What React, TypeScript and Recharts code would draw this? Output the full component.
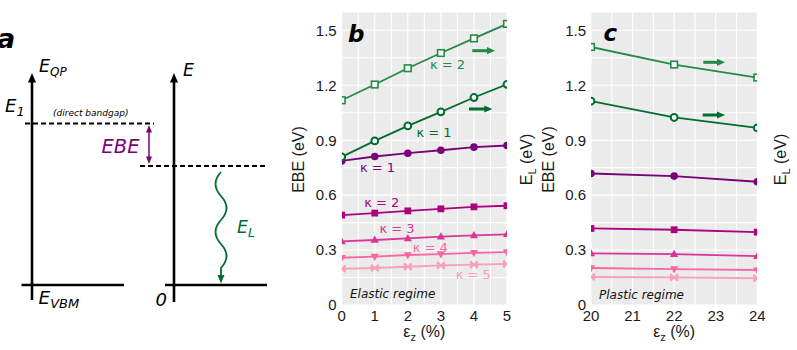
import React from 'react';
import { LineChart, Line, XAxis, YAxis, CartesianGrid } from 'recharts';

// ---- Data: panel b (elastic regime) ----
const strainElastic = [0, 1, 2, 3, 4, 5];
const elasticK2EL = [1.118, 1.204, 1.293, 1.376, 1.456, 1.535];
const elasticK1EL = [0.809, 0.896, 0.978, 1.055, 1.133, 1.205];
const elasticK1EBE = [0.787, 0.811, 0.829, 0.845, 0.862, 0.871];
const elasticK2EBE = [0.491, 0.502, 0.514, 0.525, 0.536, 0.542];
const elasticK3EBE = [0.347, 0.355, 0.364, 0.373, 0.38, 0.386];
const elasticK4EBE = [0.258, 0.264, 0.273, 0.278, 0.285, 0.289];
const elasticK5EBE = [0.198, 0.202, 0.209, 0.216, 0.22, 0.224];

// ---- Data: panel c (plastic regime) ----
const strainPlastic = [20, 22, 24];
const plasticK2EL = [1.409, 1.313, 1.242];
const plasticK1EL = [1.113, 1.024, 0.967];
const plasticK1EBE = [0.718, 0.704, 0.673];
const plasticK2EBE = [0.418, 0.411, 0.398];
const plasticK3EBE = [0.282, 0.278, 0.267];
const plasticK4EBE = [0.202, 0.196, 0.191];
const plasticK5EBE = [0.153, 0.151, 0.146];

// ---- Ticks ----
const elasticTicks = [0, 0.5, 1, 1.5, 2, 2.5, 3, 3.5, 4, 4.5, 5];
const plasticTicks = [20, 20.5, 21, 21.5, 22, 22.5, 23, 23.5, 24];
const yTicks = [0, 0.15, 0.3, 0.45, 0.6, 0.75, 0.9, 1.05, 1.2, 1.35, 1.5];
const yDomain = [0, 1.6];

const AXIS_FONT = '"Liberation Sans", Arial, Helvetica, sans-serif';
const ANNOT_FONT = '"DejaVu Sans", Verdana, sans-serif';

const C = {
  k2EL: '#238b45',
  k1EL: '#006d2c',
  k1: '#7a0177',
  k2: '#ae017e',
  k3: '#dd3497',
  k4: '#f768a1',
  k5: '#fa9fb5',
};

const seriesDefs = [
  { key: 'k5EBE', axis: 'left', color: C.k5, shape: 'bowtie' },
  { key: 'k4EBE', axis: 'left', color: C.k4, shape: 'triangleDown' },
  { key: 'k3EBE', axis: 'left', color: C.k3, shape: 'triangle' },
  { key: 'k2EBE', axis: 'left', color: C.k2, shape: 'square' },
  { key: 'k1EBE', axis: 'left', color: C.k1, shape: 'circle' },
  { key: 'k2EL', axis: 'right', color: C.k2EL, shape: 'openSquare' },
  { key: 'k1EL', axis: 'right', color: C.k1EL, shape: 'openCircle' },
];

const elasticRows = strainElastic.map((s, i) => ({
  strain: s,
  k2EL: elasticK2EL[i],
  k1EL: elasticK1EL[i],
  k1EBE: elasticK1EBE[i],
  k2EBE: elasticK2EBE[i],
  k3EBE: elasticK3EBE[i],
  k4EBE: elasticK4EBE[i],
  k5EBE: elasticK5EBE[i],
}));

const plasticRows = strainPlastic.map((s, i) => ({
  strain: s,
  k2EL: plasticK2EL[i],
  k1EL: plasticK1EL[i],
  k1EBE: plasticK1EBE[i],
  k2EBE: plasticK2EBE[i],
  k3EBE: plasticK3EBE[i],
  k4EBE: plasticK4EBE[i],
  k5EBE: plasticK5EBE[i],
}));

const fmtX = (v: number) => (Number.isInteger(v) ? String(v) : '');
const fmtY = (v: number) => {
  const m = Math.round(v * 100);
  if (m % 30 !== 0) return '';
  return m === 0 ? '0' : v.toFixed(1);
};

type Box = { x: number; y: number; w: number; h: number };

function shapeEl(shape: string, color: string, cx: number, cy: number) {
  switch (shape) {
    case 'circle':
      return <circle cx={cx} cy={cy} r={3.8} fill={color} />;
    case 'openCircle':
      return <circle cx={cx} cy={cy} r={3.4} fill="#ffffff" stroke={color} strokeWidth={2} />;
    case 'square':
      return <rect x={cx - 3.4} y={cy - 3.4} width={6.8} height={6.8} fill={color} />;
    case 'openSquare':
      return <rect x={cx - 3.3} y={cy - 3.3} width={6.6} height={6.6} fill="#ffffff" stroke={color} strokeWidth={1.6} />;
    case 'triangle':
      return <polygon points={`${cx},${cy - 4.4} ${cx + 4.1},${cy + 2.8} ${cx - 4.1},${cy + 2.8}`} fill={color} />;
    case 'triangleDown':
      return <polygon points={`${cx},${cy + 4.4} ${cx + 4.1},${cy - 2.8} ${cx - 4.1},${cy - 2.8}`} fill={color} />;
    case 'bowtie':
    default:
      return (
        <g stroke={color} strokeWidth={1.6}>
          <line x1={cx - 3.3} y1={cy - 3.3} x2={cx + 3.3} y2={cy + 3.3} />
          <line x1={cx - 3.3} y1={cy + 3.3} x2={cx + 3.3} y2={cy - 3.3} />
          <line x1={cx - 3.3} y1={cy - 3.5} x2={cx - 3.3} y2={cy + 3.5} />
          <line x1={cx + 3.3} y1={cy - 3.5} x2={cx + 3.3} y2={cy + 3.5} />
        </g>
      );
  }
}

// Dots are clipped to the plot area (nested svg viewport), as in the reference.
function makeDot(shape: string, color: string, box: Box) {
  return (p: any) => {
    const { cx, cy, index } = p;
    const key = `${shape}-${index}`;
    if (typeof cx !== 'number' || typeof cy !== 'number') return <g key={key} />;
    return (
      <svg key={key} x={box.x} y={box.y} width={box.w} height={box.h} overflow="hidden">
        <g transform={`translate(${-box.x},${-box.y})`}>{shapeEl(shape, color, cx, cy)}</g>
      </svg>
    );
  };
}

type PanelProps = {
  left: number;
  width: number;
  leftW: number;
  rightW: number;
  rows: any[];
  xTicks: number[];
  xDomain: number[];
  rightLabelOffset: number;
};

const TOP = 12;
const XH = 45;
const H = 350;

function Panel({ left, width, leftW, rightW, rows, xTicks, xDomain, rightLabelOffset }: PanelProps) {
  const plotLeft = leftW;
  const plotRight = width - rightW;
  const plotMidX = (plotLeft + plotRight) / 2;
  const plotMidY = (TOP + (H - XH)) / 2 + 1;
  const box: Box = { x: plotLeft, y: TOP, w: plotRight - plotLeft, h: H - XH - TOP };

  const xLabel = () => (
    <text x={plotMidX} y={H - XH + 32} textAnchor="middle" fontSize={16} fill="#1a1a1a" fontFamily={AXIS_FONT}>
      ε<tspan fontSize={11} dy={4}>z</tspan>
      <tspan dy={-4}> (%)</tspan>
    </text>
  );
  const leftLabel = () => {
    const cx = 13.5;
    return (
      <text
        x={cx}
        y={plotMidY}
        transform={`rotate(-90 ${cx} ${plotMidY})`}
        textAnchor="middle"
        fontSize={16}
        fill="#1a1a1a"
        fontFamily={AXIS_FONT}
      >
        EBE (eV)
      </text>
    );
  };
  const rightLabel = () => {
    const cx = plotRight + rightLabelOffset;
    return (
      <text
        x={cx}
        y={plotMidY}
        transform={`rotate(-90 ${cx} ${plotMidY})`}
        textAnchor="middle"
        fontSize={16}
        fill="#1a1a1a"
        fontFamily={AXIS_FONT}
      >
        E<tspan fontSize={11} dy={4}>L</tspan>
        <tspan dy={-4}> (eV)</tspan>
      </text>
    );
  };

  return (
    <div style={{ position: 'absolute', left, top: 0, width, height: H }}>
      <LineChart width={width} height={H} data={rows} margin={{ top: TOP, right: 0, bottom: 0, left: 0 }}>
        <CartesianGrid yAxisId="left" fill="#ebebeb" fillOpacity={1} stroke="#ffffff" strokeWidth={1.1} />
        <XAxis
          dataKey="strain"
          type="number"
          domain={xDomain}
          ticks={xTicks}
          interval={0}
          allowDataOverflow
          tickFormatter={fmtX}
          tickLine={false}
          axisLine={false}
          tickSize={0}
          tickMargin={5}
          height={XH}
          tick={{ fontSize: 15, fill: '#1a1a1a', fontFamily: AXIS_FONT }}
          label={{ content: xLabel }}
        />
        <YAxis
          yAxisId="left"
          type="number"
          domain={yDomain}
          ticks={yTicks}
          interval={0}
          allowDataOverflow
          tickFormatter={fmtY}
          tickLine={false}
          axisLine={false}
          tickSize={0}
          tickMargin={5}
          width={leftW}
          tick={{ fontSize: 15, fill: '#1a1a1a', fontFamily: AXIS_FONT }}
          label={{ content: leftLabel }}
        />
        <YAxis
          yAxisId="right"
          orientation="right"
          type="number"
          domain={yDomain}
          ticks={yTicks}
          allowDataOverflow
          tick={false}
          tickLine={false}
          axisLine={false}
          width={rightW}
          label={{ content: rightLabel }}
        />
        {seriesDefs.map((s) => (
          <Line
            key={s.key}
            yAxisId={s.axis}
            type="linear"
            dataKey={s.key}
            stroke={s.color}
            strokeWidth={1.8}
            dot={makeDot(s.shape, s.color, box)}
            activeDot={false}
            isAnimationActive={false}
          />
        ))}
      </LineChart>
    </div>
  );
}

function Arrow({ x1, x2, y, color }: { x1: number; x2: number; y: number; color: string }) {
  const hl = 8;
  return (
    <g fill={color}>
      <rect x={x1} y={y - 1.5} width={x2 - x1 - hl + 1} height={3} />
      <polygon points={`${x2 - hl},${y - 3.6} ${x2},${y} ${x2 - hl},${y + 3.6}`} />
    </g>
  );
}

function Overlay() {
  const it = { fontFamily: ANNOT_FONT, fontStyle: 'italic' as const };
  return (
    <svg
      width={797}
      height={350}
      style={{ position: 'absolute', left: 0, top: 0, pointerEvents: 'none' }}
    >
      {/* ---- Panel a schematic ---- */}
      <text x={-3} y={47.5} fontSize={27} fontWeight="bold" {...it} fill="#000">a</text>
      <line x1={32} y1={300} x2={32} y2={80} stroke="#000" strokeWidth={2.6} />
      <polygon points="32,73 28,82.5 36,82.5" fill="#000" />
      <line x1={21.5} y1={285} x2={124} y2={285} stroke="#000" strokeWidth={2.6} />
      <line x1={174} y1={302} x2={174} y2={80} stroke="#000" strokeWidth={2.6} />
      <polygon points="174,73 170,82.5 178,82.5" fill="#000" />
      <line x1={165} y1={285} x2={267} y2={285} stroke="#000" strokeWidth={2.6} />
      <line x1={25} y1={123.5} x2={154} y2={123.5} stroke="#000" strokeWidth={1.8} strokeDasharray="5 3" />
      <line x1={140} y1={166} x2={267} y2={166} stroke="#000" strokeWidth={1.8} strokeDasharray="5 3" />
      <line x1={149} y1={130} x2={149} y2={159} stroke={C.k1} strokeWidth={1.5} />
      <polygon points="149,125 146,132.5 152,132.5" fill={C.k1} />
      <polygon points="149,164 146,156.5 152,156.5" fill={C.k1} />
      <text x={101.5} y={152.7} fontSize={19.5} fill={C.k1} {...it}>EBE</text>
      <path
        d="M221,172 Q210,184 221,196 Q232,208 221,220 Q210,232 221,244 Q232,256 221,268 L221,276"
        fill="none"
        stroke={C.k1EL}
        strokeWidth={1.8}
      />
      <polygon points="217.5,275 224.5,275 221,283.5" fill={C.k1EL} />
      <text x={237} y={233.3} fontSize={17.5} fill={C.k1EL} {...it}>
        E<tspan fontSize={12.5} dy={4}>L</tspan>
      </text>
      <text x={39} y={71.7} fontSize={17.5} fill="#000" {...it}>
        E<tspan fontSize={12} dy={4}>QP</tspan>
      </text>
      <text x={5} y={111.7} fontSize={18} fill="#000" {...it}>
        E<tspan fontSize={13} dy={4}>1</tspan>
      </text>
      <text x={53} y={116} fontSize={9} fill="#000" {...it}>(direct bandgap)</text>
      <text x={183} y={75.7} fontSize={17.5} fill="#000" {...it}>E</text>
      <text x={38.5} y={304} fontSize={18.5} fill="#000" {...it}>
        E<tspan fontSize={13} dy={4}>VBM</tspan>
      </text>
      <text x={155.5} y={306} fontSize={18} fill="#000" {...it}>0</text>

      {/* ---- Panel b annotations ---- */}
      <text x={348} y={41.5} fontSize={23} fontWeight="bold" {...it} fill="#000">b</text>
      <g fontFamily={ANNOT_FONT} fontSize={13} textAnchor="middle">
        <text x={447.5} y={69} fill={C.k2EL}>κ = 2</text>
        <text x={434} y={137} fill={C.k1EL}>κ = 1</text>
        <text x={377.5} y={171.7} fill={C.k1}>κ = 1</text>
        <text x={381.7} y={206.5} fill={C.k2}>κ = 2</text>
        <text x={397} y={232.5} fill={C.k3}>κ = 3</text>
        <text x={430.3} y={252} fill={C.k4}>κ = 4</text>
        <text x={473.3} y={279} fill={C.k5}>κ = 5</text>
      </g>
      <text x={350} y={298} fontSize={12} fill="#111" {...it}>Elastic regime</text>
      <Arrow x1={472.3} x2={495} y={50.7} color={C.k2EL} />
      <Arrow x1={469} x2={492.3} y={109} color={C.k1EL} />

      {/* ---- Panel c annotations ---- */}
      <text x={603.5} y={40.7} fontSize={23} fontWeight="bold" {...it} fill="#000">c</text>
      <text x={599} y={298.5} fontSize={12} fill="#111" {...it}>Plastic regime</text>
      <Arrow x1={703.3} x2={725} y={62.3} color={C.k2EL} />
      <Arrow x1={702.7} x2={725} y={115} color={C.k1EL} />
    </svg>
  );
}

export default function App() {
  return (
    <div
      style={{
        position: 'absolute',
        left: 0,
        top: 0,
        width: 797,
        height: 350,
        background: '#ffffff',
        overflow: 'hidden',
      }}
    >
      <Panel
        left={290}
        width={250}
        leftW={51.7}
        rightW={33}
        rows={elasticRows}
        xTicks={elasticTicks}
        xDomain={[0, 5]}
        rightLabelOffset={25}
      />
      <Panel
        left={540}
        width={257}
        leftW={51}
        rightW={39.7}
        rows={plasticRows}
        xTicks={plasticTicks}
        xDomain={[20, 24]}
        rightLabelOffset={28.7}
      />
      <Overlay />
    </div>
  );
}
